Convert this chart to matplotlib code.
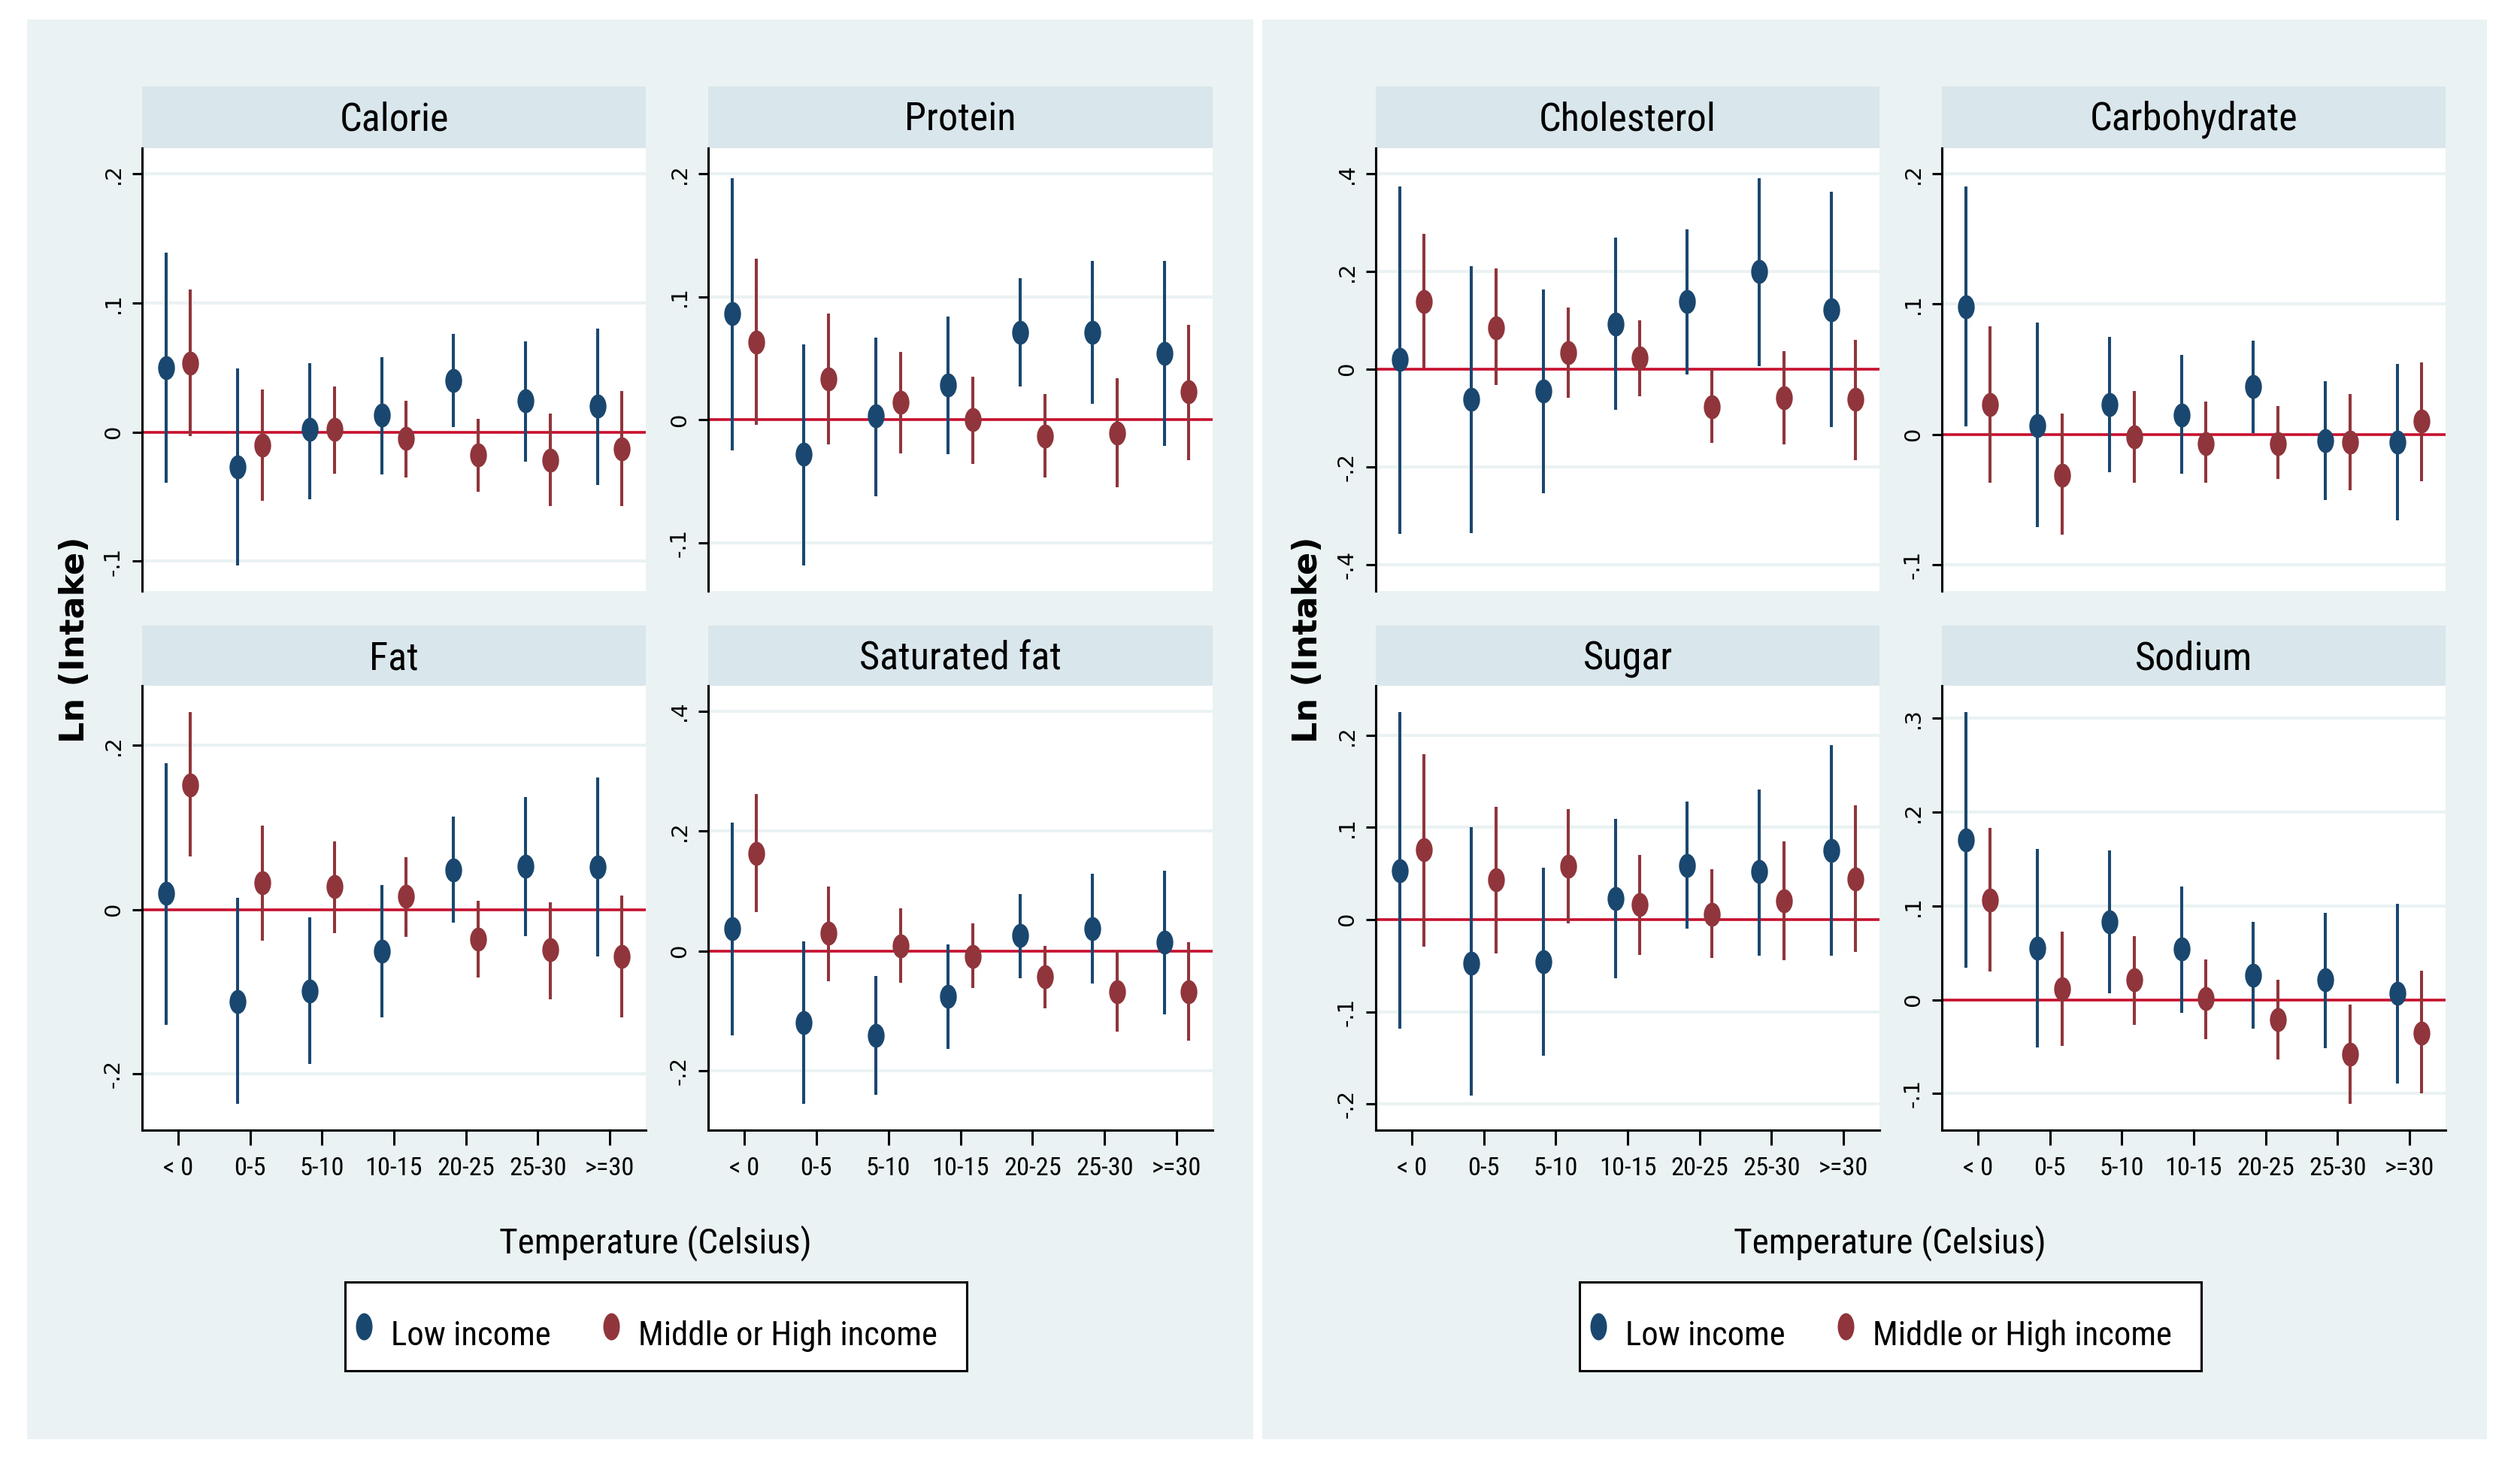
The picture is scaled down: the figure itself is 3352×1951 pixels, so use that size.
import numpy as np
import matplotlib
matplotlib.use("Agg")
import matplotlib.pyplot as plt
from matplotlib.path import Path
from matplotlib.patches import Rectangle
from matplotlib import font_manager as fm

# ---------------- data ----------------
categories = ['< 0', '0-5', '5-10', '10-15', '20-25', '25-30', '>=30']
series_names = ['Low income', 'Middle or High income']

calorie_low_est = [0.050, -0.027, 0.002, 0.013, 0.040, 0.024, 0.020]
calorie_low_lo = [-0.039, -0.103, -0.052, -0.033, 0.004, -0.023, -0.041]
calorie_low_hi = [0.139, 0.049, 0.053, 0.058, 0.076, 0.070, 0.080]
calorie_mid_est = [0.053, -0.010, 0.002, -0.005, -0.018, -0.022, -0.013]
calorie_mid_lo = [-0.003, -0.053, -0.032, -0.035, -0.046, -0.057, -0.057]
calorie_mid_hi = [0.110, 0.033, 0.035, 0.024, 0.010, 0.014, 0.032]

protein_low_est = [0.086, -0.028, 0.003, 0.028, 0.071, 0.071, 0.054]
protein_low_lo = [-0.025, -0.118, -0.062, -0.028, 0.027, 0.013, -0.021]
protein_low_hi = [0.196, 0.061, 0.067, 0.084, 0.115, 0.129, 0.129]
protein_mid_est = [0.063, 0.033, 0.014, 0.000, -0.013, -0.011, 0.023]
protein_mid_lo = [-0.004, -0.020, -0.027, -0.036, -0.047, -0.055, -0.033]
protein_mid_hi = [0.131, 0.086, 0.055, 0.035, 0.021, 0.034, 0.077]

fat_low_est = [0.020, -0.112, -0.099, -0.051, 0.048, 0.053, 0.052]
fat_low_lo = [-0.140, -0.237, -0.188, -0.131, -0.016, -0.032, -0.057]
fat_low_hi = [0.178, 0.014, -0.009, 0.030, 0.113, 0.137, 0.161]
fat_mid_est = [0.152, 0.033, 0.028, 0.016, -0.036, -0.049, -0.057]
fat_mid_lo = [0.065, -0.038, -0.029, -0.033, -0.083, -0.109, -0.131]
fat_mid_hi = [0.241, 0.102, 0.083, 0.064, 0.011, 0.009, 0.017]

satfat_low_est = [0.037, -0.120, -0.141, -0.076, 0.026, 0.037, 0.015]
satfat_low_lo = [-0.141, -0.255, -0.240, -0.163, -0.046, -0.054, -0.105]
satfat_low_hi = [0.214, 0.016, -0.042, 0.011, 0.095, 0.129, 0.134]
satfat_mid_est = [0.163, 0.030, 0.009, -0.009, -0.043, -0.068, -0.068]
satfat_mid_lo = [0.065, -0.051, -0.053, -0.062, -0.095, -0.135, -0.150]
satfat_mid_hi = [0.262, 0.108, 0.071, 0.046, 0.008, 0.000, 0.015]

chol_low_est = [0.020, -0.062, -0.045, 0.092, 0.139, 0.201, 0.122]
chol_low_lo = [-0.337, -0.335, -0.254, -0.083, -0.010, 0.007, -0.119]
chol_low_hi = [0.374, 0.212, 0.163, 0.270, 0.286, 0.392, 0.363]
chol_mid_est = [0.139, 0.085, 0.034, 0.024, -0.076, -0.059, -0.062]
chol_mid_lo = [0.002, -0.032, -0.058, -0.055, -0.151, -0.154, -0.186]
chol_mid_hi = [0.278, 0.206, 0.127, 0.100, 0.000, 0.037, 0.060]

carb_low_est = [0.098, 0.007, 0.023, 0.015, 0.037, -0.005, -0.006]
carb_low_lo = [0.006, -0.071, -0.029, -0.030, 0.001, -0.050, -0.066]
carb_low_hi = [0.190, 0.086, 0.075, 0.061, 0.072, 0.041, 0.054]
carb_mid_est = [0.023, -0.031, -0.002, -0.007, -0.007, -0.006, 0.010]
carb_mid_lo = [-0.037, -0.077, -0.037, -0.037, -0.034, -0.043, -0.036]
carb_mid_hi = [0.083, 0.016, 0.033, 0.025, 0.022, 0.031, 0.055]

sugar_low_est = [0.053, -0.047, -0.046, 0.023, 0.059, 0.052, 0.075]
sugar_low_lo = [-0.118, -0.191, -0.148, -0.064, -0.010, -0.039, -0.039]
sugar_low_hi = [0.225, 0.100, 0.056, 0.109, 0.128, 0.141, 0.189]
sugar_mid_est = [0.076, 0.043, 0.058, 0.016, 0.006, 0.020, 0.044]
sugar_mid_lo = [-0.029, -0.037, -0.004, -0.038, -0.042, -0.044, -0.035]
sugar_mid_hi = [0.179, 0.122, 0.120, 0.070, 0.055, 0.085, 0.124]

sodium_low_est = [0.170, 0.055, 0.083, 0.054, 0.026, 0.021, 0.007]
sodium_low_lo = [0.034, -0.051, 0.007, -0.014, -0.031, -0.052, -0.089]
sodium_low_hi = [0.307, 0.161, 0.159, 0.121, 0.083, 0.093, 0.102]
sodium_mid_est = [0.106, 0.012, 0.021, 0.001, -0.021, -0.058, -0.036]
sodium_mid_lo = [0.030, -0.049, -0.027, -0.042, -0.064, -0.111, -0.100]
sodium_mid_hi = [0.183, 0.073, 0.068, 0.043, 0.021, -0.005, 0.031]

titles = ['Calorie', 'Protein', 'Fat', 'Saturated fat',
          'Cholesterol', 'Carbohydrate', 'Sugar', 'Sodium']
yticks_list = [[-0.1, 0, 0.1, 0.2], [-0.1, 0, 0.1, 0.2], [-0.2, 0, 0.2],
               [-0.2, 0, 0.2, 0.4], [-0.4, -0.2, 0, 0.2, 0.4],
               [-0.1, 0, 0.1, 0.2], [-0.2, -0.1, 0, 0.1, 0.2],
               [-0.1, 0, 0.1, 0.2, 0.3]]
ylims = [(-0.123, 0.2196), (-0.139, 0.2206), (-0.2687, 0.2727), (-0.2986, 0.442),
         (-0.454, 0.453), (-0.12, 0.2194), (-0.2284, 0.2536), (-0.139, 0.3347)]

series = [
    (calorie_low_est, calorie_low_lo, calorie_low_hi, calorie_mid_est, calorie_mid_lo, calorie_mid_hi),
    (protein_low_est, protein_low_lo, protein_low_hi, protein_mid_est, protein_mid_lo, protein_mid_hi),
    (fat_low_est, fat_low_lo, fat_low_hi, fat_mid_est, fat_mid_lo, fat_mid_hi),
    (satfat_low_est, satfat_low_lo, satfat_low_hi, satfat_mid_est, satfat_mid_lo, satfat_mid_hi),
    (chol_low_est, chol_low_lo, chol_low_hi, chol_mid_est, chol_mid_lo, chol_mid_hi),
    (carb_low_est, carb_low_lo, carb_low_hi, carb_mid_est, carb_mid_lo, carb_mid_hi),
    (sugar_low_est, sugar_low_lo, sugar_low_hi, sugar_mid_est, sugar_mid_lo, sugar_mid_hi),
    (sodium_low_est, sodium_low_lo, sodium_low_hi, sodium_mid_est, sodium_mid_lo, sodium_mid_hi),
]

# ---------------- style ----------------
BLUE = '#1A476F'
RED = '#90353B'
ZERO = '#C8102E'
OUTER = '#EAF2F3'
STRIP = '#D9E6EB'
GRID = '#EAF2F3'

# look for a condensed sans face (Stata's narrow-looking text)
NARROW_FP = None
FSCALE = 0.82
prefs = [('Liberation Sans Narrow', None, 1.0), ('Arial Narrow', None, 1.0),
         ('Roboto Condensed', None, 0.92), ('Open Sans Condensed', None, 0.95),
         ('Noto Sans', 'condensed', 0.90), ('DejaVu Sans', 'condensed', 0.80)]
entries = fm.fontManager.ttflist
for name, stretch, sc in prefs:
    found = None
    for f in entries:
        if f.name == name and f.style == 'normal' and f.weight in (400, 'normal', 'regular'):
            if stretch is None or f.stretch in ('condensed', 'semi-condensed'):
                found = f
                break
    if found is not None:
        NARROW_FP = found.fname
        FSCALE = sc
        break
if NARROW_FP is None:
    TXT = dict(family='Liberation Sans')
else:
    TXT = dict(fontproperties=fm.FontProperties(fname=NARROW_FP))

W, H = 3352, 1951
fig = plt.figure(figsize=(W / 100, H / 100), dpi=100, facecolor='white')


def rect(x0, y0, x1, y1, **kw):
    fig.patches.append(Rectangle((x0 / W, 1 - y1 / H), (x1 - x0) / W, (y1 - y0) / H,
                                 transform=fig.transFigure, **kw))


def txt(size):
    d = dict(TXT)
    if 'fontproperties' in d:
        fp = d['fontproperties'].copy()
        fp.set_size(size * FSCALE)
        return {'fontproperties': fp}
    d['fontsize'] = size * FSCALE
    return d


# outer panels
rect(36, 26, 1667, 1914, fc=OUTER, ec='none', zorder=-10)
rect(1679, 26, 3308, 1914, fc=OUTER, ec='none', zorder=-10)

cols_x = [(189, 859), (942, 1613), (1830, 2500), (2583, 3253)]
rows = [((115, 197), (197, 786)), ((832, 912), (912, 1503))]
placement = [(0, 0), (0, 1), (1, 0), (1, 1), (0, 2), (0, 3), (1, 2), (1, 3)]

circ = Path.unit_circle()
ellipse = Path(circ.vertices * np.array([0.7, 1.0]), circ.codes)
leg_ellipse = Path(circ.vertices * np.array([0.61, 1.0]), circ.codes)


def fmt(v):
    if abs(v) < 1e-9:
        return '0'
    s = ('%.1f' % abs(v)).lstrip('0')
    return ('-' if v < 0 else '') + s


x = np.arange(len(categories))
off = 0.17
for i, title in enumerate(titles):
    r, c = placement[i]
    (hy0, hy1), (py0, py1) = rows[r]
    x0, x1 = cols_x[c]
    rect(x0, hy0, x1, hy1, fc=STRIP, ec='none', zorder=-5)
    fig.text((x0 + x1) / 2 / W, 1 - (hy0 + 58) / H, title, ha='center', va='baseline',
             **txt(41))
    ax = fig.add_axes([x0 / W, 1 - py1 / H, (x1 - x0) / W, (py1 - py0) / H])
    ax.set_facecolor('white')
    ax.set_xlim(-0.5, 6.5)
    ax.set_ylim(*ylims[i])
    ax.spines['top'].set_visible(False)
    ax.spines['right'].set_visible(False)
    ax.spines['left'].set_linewidth(2.2)
    ax.set_xticks(x)
    if r == 1:
        ax.spines['bottom'].set_linewidth(2.2)
        ax.set_xticklabels(categories, **txt(27))
        ax.tick_params(axis='x', length=14.4, width=2.2, pad=11)
    else:
        ax.spines['bottom'].set_visible(False)
        ax.tick_params(axis='x', bottom=False, labelbottom=False)
    yt = yticks_list[i]
    ax.set_yticks(yt)
    ax.set_yticklabels([fmt(v) for v in yt], rotation=90, va='center', ha='right',
                       fontsize=21, family='DejaVu Sans')
    ax.tick_params(axis='y', length=9.4, width=2.2, pad=8)
    ax.yaxis.grid(True, color=GRID, lw=2.9)
    ax.set_axisbelow(True)
    ax.axhline(0, color=ZERO, lw=2.6, zorder=2)
    le, ll, lh, me, ml, mh = series[i]
    ax.vlines(x - off, ll, lh, color=BLUE, lw=2.9, zorder=3)
    ax.plot(x - off, le, ls='none', marker=ellipse, ms=23, mew=0, color=BLUE, zorder=4)
    ax.vlines(x + off, ml, mh, color=RED, lw=2.9, zorder=3)
    ax.plot(x + off, me, ls='none', marker=ellipse, ms=23, mew=0, color=RED, zorder=4)

# y titles
for xc in (100, 1740):
    fig.text(xc / W, 1 - 851 / H, 'Ln (Intake)', rotation=90, ha='center', va='center',
             fontsize=32, fontweight='bold', family='DejaVu Sans')

# x titles and legends
ov = fig.add_axes([0, 0, 1, 1], zorder=5)
ov.set_xlim(0, W)
ov.set_ylim(H, 0)
ov.axis('off')
ov.patch.set_alpha(0)
for dx in (0, 1642):
    fig.text((872 + dx) / W, 1 - 1666 / H, 'Temperature (Celsius)', ha='center',
             va='baseline', **txt(37))
    rect(459 + dx, 1705, 1286 + dx, 1823, fc='white', ec='black', lw=2.2, zorder=2)
    ov.plot([484 + dx], [1764], ls='none', marker=leg_ellipse, ms=26, mew=0, color=BLUE)
    ov.plot([813 + dx], [1764], ls='none', marker=leg_ellipse, ms=26, mew=0, color=RED)
    ov.text(520 + dx, 1789, series_names[0], ha='left', va='baseline', **txt(35))
    ov.text(849 + dx, 1789, series_names[1], ha='left', va='baseline', **txt(35))

fig.savefig('out.png', dpi=100, facecolor='white')
